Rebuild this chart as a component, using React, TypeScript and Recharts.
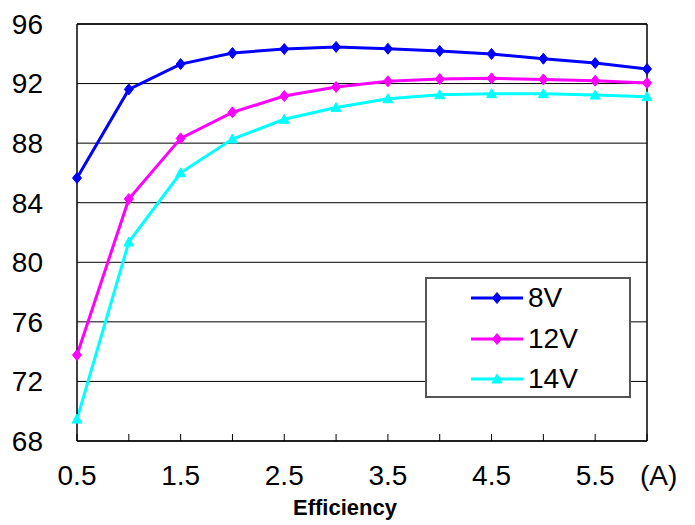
import React from 'react';
import { LineChart, Line, XAxis, YAxis, CartesianGrid, ReferenceLine, Legend } from 'recharts';

const currents = [0.5, 1, 1.5, 2, 2.5, 3, 3.5, 4, 4.5, 5, 5.5, 6];
const eff8V = [85.66, 91.61, 93.31, 94.05, 94.32, 94.46, 94.34, 94.19, 93.99, 93.67, 93.38, 92.98];
const eff12V = [73.77, 84.25, 88.32, 90.07, 91.16, 91.77, 92.15, 92.3, 92.35, 92.28, 92.19, 92.04];
const eff14V = [69.47, 81.36, 86.01, 88.28, 89.6, 90.39, 90.98, 91.25, 91.32, 91.32, 91.23, 91.12];
const yTicks = [68, 72, 76, 80, 84, 88, 92, 96];
const xTicks = [0.5, 1, 1.5, 2, 2.5, 3, 3.5, 4, 4.5, 5, 5.5, 6];
const xLabelTicks = [0.5, 1.5, 2.5, 3.5, 4.5, 5.5];
const unitLabel = '(A)';
const axisTitle = 'Efficiency';
const seriesNames = ['8V', '12V', '14V'];
const seriesColors = ['#0000FF', '#FF00FF', '#00FFFF'];
const seriesMarkers = ['diamond', 'diamond', 'triangle'];

const data = currents.map((c, i) => ({ current: c, v8: eff8V[i], v12: eff12V[i], v14: eff14V[i] }));
const keys = ['v8', 'v12', 'v14'];

const FONT = '"Liberation Sans", Arial, sans-serif';

const Marker = ({ cx, cy, type, color }: any) => {
  if (cx == null || cy == null) return null;
  if (type === 'triangle') {
    const d = `M${cx},${cy - 5} L${cx + 5},${cy + 4} L${cx - 5},${cy + 4} Z`;
    return <path d={d} fill={color} stroke={color} strokeWidth={1} />;
  }
  const d = `M${cx},${cy - 5.5} L${cx + 4.5},${cy} L${cx},${cy + 5.5} L${cx - 4.5},${cy} Z`;
  return <path d={d} fill={color} stroke={color} strokeWidth={1} />;
};

const makeDot = (type: string, color: string) => (props: any) => (
  <Marker key={`${props.index}`} cx={props.cx} cy={props.cy} type={type} color={color} />
);

const XTick = ({ x, y, payload }: any) => {
  const v = payload.value;
  let label: any = null;
  if (xLabelTicks.includes(v)) {
    label = (
      <text x={x} y={y + 44} textAnchor="middle" fontSize={28} fontFamily={FONT} fill="#000">
        {String(v)}
      </text>
    );
  } else if (v === 6) {
    label = (
      <text x={x - 7} y={y + 44} textAnchor="start" fontSize={28} fontFamily={FONT} fill="#000">
        {unitLabel}
      </text>
    );
  }
  return (
    <g>
      <line x1={x} x2={x} y1={y} y2={y - 7} stroke="#000" strokeWidth={1} />
      {label}
    </g>
  );
};

const YTick = ({ x, y, payload }: any) => (
  <text x={x - 34} y={y} dy="0.35em" textAnchor="end" fontSize={28} fontFamily={FONT} fill="#000">
    {String(payload.value)}
  </text>
);

const LegendContent = () => (
  <div
    style={{
      position: 'relative',
      width: 206,
      height: 121,
      boxSizing: 'border-box',
      border: '2px solid #555',
      background: '#fff',
      fontFamily: FONT,
    }}
  >
    {seriesNames.map((name, i) => {
      const cy = 19 + i * 40.5;
      return (
        <div key={name} style={{ position: 'absolute', left: 0, top: cy - 15, height: 30, width: 200 }}>
          <svg width={60} height={30} style={{ position: 'absolute', left: 44, top: 0 }}>
            <line x1={0} x2={52} y1={15} y2={15} stroke={seriesColors[i]} strokeWidth={3} />
            <Marker cx={26} cy={15} type={seriesMarkers[i]} color={seriesColors[i]} />
          </svg>
          <span
            style={{
              position: 'absolute',
              left: 101,
              top: 0,
              fontSize: 28,
              lineHeight: '30px',
              color: '#000',
              whiteSpace: 'nowrap',
            }}
          >
            {name}
          </span>
        </div>
      );
    })}
  </div>
);

export default function App() {
  return (
    <div style={{ position: 'absolute', left: 0, top: 0, width: 695, height: 525, background: '#fff' }}>
      <LineChart
        width={695}
        height={525}
        data={data}
        margin={{ top: 24, right: 48, bottom: 0, left: 0 }}
      >
        <CartesianGrid vertical={false} stroke="#000" strokeWidth={1} />
        <XAxis
          dataKey="current"
          type="number"
          domain={[0.5, 6]}
          ticks={xTicks}
          interval={0}
          tickLine={false}
          tickSize={0}
          tickMargin={0}
          height={84}
          axisLine={{ stroke: '#000', strokeWidth: 1.5 }}
          tick={<XTick />}
        />
        <YAxis
          type="number"
          domain={[68, 96]}
          ticks={yTicks}
          interval={0}
          width={77}
          tickLine={false}
          tickSize={0}
          tickMargin={0}
          axisLine={{ stroke: '#000', strokeWidth: 1.5 }}
          tick={<YTick />}
        />
        <ReferenceLine x={6} stroke="#000" strokeWidth={1.5} />
        <ReferenceLine y={96} stroke="#000" strokeWidth={1.5} />
        {keys.map((k, i) => (
          <Line
            key={k}
            dataKey={k}
            name={seriesNames[i]}
            stroke={seriesColors[i]}
            strokeWidth={3}
            dot={makeDot(seriesMarkers[i], seriesColors[i])}
            activeDot={false}
            isAnimationActive={false}
          />
        ))}
        <Legend
          layout="horizontal"
          verticalAlign="middle"
          align="center"
          wrapperStyle={{ left: 425, top: 277, width: 206, height: 121, right: 'auto', bottom: 'auto' }}
          content={<LegendContent />}
        />
      </LineChart>
      <div
        style={{
          position: 'absolute',
          left: 245,
          top: 497,
          width: 200,
          textAlign: 'center',
          fontFamily: FONT,
          fontWeight: 'bold',
          fontSize: 22,
          lineHeight: '22px',
          color: '#000',
        }}
      >
        {axisTitle}
      </div>
    </div>
  );
}
